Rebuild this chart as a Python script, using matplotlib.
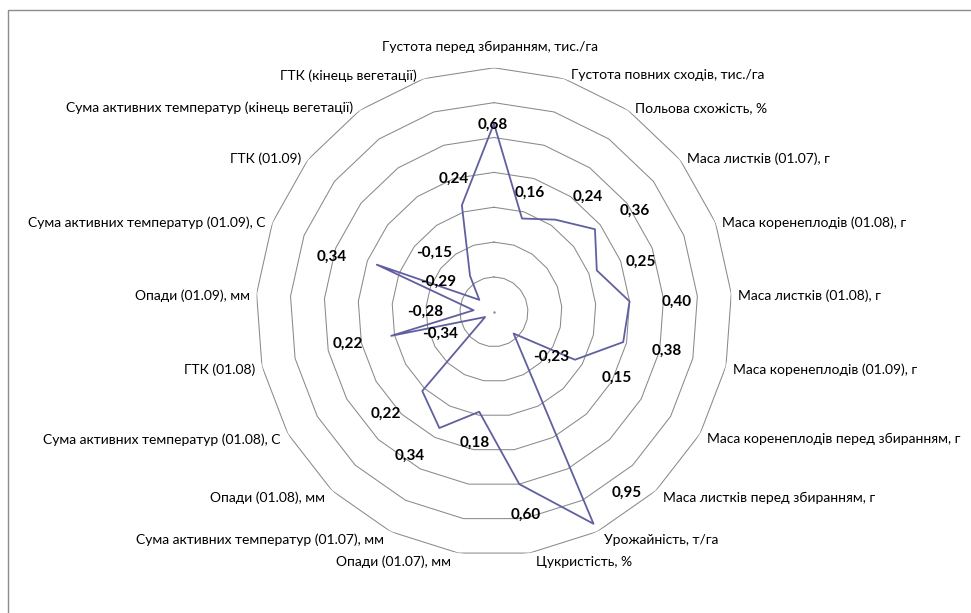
import matplotlib
matplotlib.use('Agg')
import matplotlib.pyplot as plt
import matplotlib.patches as mpatches
import numpy as np

plt.rcParams['font.family'] = ['Lato', 'DejaVu Sans']

categories = [
    'Густота перед збиранням, тис./га',
    'Густота повних сходів, тис./га',
    'Польова схожість, %',
    'Маса листків (01.07), г',
    'Маса коренеплодів (01.08), г',
    'Маса листків (01.08), г',
    'Маса коренеплодів (01.09), г',
    'Маса коренеплодів перед збиранням, г',
    'Маса листків перед збиранням, г',
    'Урожайність, т/га',
    'Цукристість, %',
    'Опади (01.07), мм',
    'Сума активних температур (01.07), мм',
    'Опади (01.08), мм',
    'Сума активних температур (01.08), С',
    'ГТК (01.08)',
    'Опади (01.09), мм',
    'Сума активних температур (01.09), С',
    'ГТК (01.09)',
    'Сума активних температур (кінець вегетації)',
    'ГТК (кінець вегетації)',
]
values = [0.68, 0.16, 0.24, 0.36, 0.25, 0.40, 0.38, 0.15, -0.23, 0.95, 0.60,
          0.18, 0.34, 0.22, -0.34, 0.22, -0.28, 0.34, -0.29, -0.15, 0.24]
rings = [-0.2, 0.0, 0.2, 0.4, 0.6, 0.8, 1.0]
r_min, r_max = -0.4, 1.0

# where each data label sits relative to its point (pixels, y down)
label_offsets = [(-1, 1), (8, -26), (33, -23), (40, -18), (44, -9), (47, 0),
                 (44, 9), (42, 18), (38, 23), (33, -31), (6, 31), (-5, 31),
                 (-30, 28), (-36, 23), (-45, 17), (-43, 8), (-48, 2), (-45, -8),
                 (-41, -18), (-36, -23), (-8, -26)]

n = len(categories)
theta = np.arange(n) * 2 * np.pi / n
theta_c = np.append(theta, theta[0])

fig = plt.figure(figsize=(9.71, 6.13), dpi=100)
fig.patches.append(mpatches.Rectangle((8 / 971, -0.1), 1.2, 1.1 - 10 / 613,
                                      transform=fig.transFigure, fill=False,
                                      edgecolor='#8c8c8c', lw=1.0))

ax = fig.add_axes([0.2636, 0.0933, 0.4902, 0.7961], projection='polar')
ax.set_aspect('auto')
ax.set_theta_zero_location('N')
ax.set_theta_direction(-1)
ax.set_ylim(r_min, r_max)
ax.grid(False)
ax.set_xticks([])
ax.set_yticks([])
ax.spines['polar'].set_visible(False)
ax.patch.set_visible(False)

for rv in rings:
    ax.plot(theta_c, [rv] * (n + 1), color='#8a8a8a', lw=0.75, zorder=1)
ax.plot([0], [r_min], marker='.', ms=1.5, color='#8a8a8a')

ax.plot(theta_c, values + values[:1], color='#6060a0', lw=1.3, zorder=3)

for t, v, (dx, dy) in zip(theta, values, label_offsets):
    ax.annotate(f'{v:.2f}'.replace('.', ','), xy=(t, v), xytext=(dx, -dy),
                textcoords='offset pixels', ha='center', va='center',
                fontsize=11, fontweight='bold', color='black', zorder=4)

for t, name in zip(theta, categories):
    s, c = np.sin(t), np.cos(t)
    if abs(s) < 0.01:
        ha, dx, dy = 'center', -4, 21
    else:
        ha = 'left' if s > 0 else 'right'
        dx = 7 if s > 0 else -7
        dy = 6 * c - 2.5
    ax.annotate(name, xy=(t, r_max), xytext=(dx, dy), textcoords='offset pixels',
                ha=ha, va='center', fontsize=10, color='black')

fig.savefig('out.png', dpi=100)
